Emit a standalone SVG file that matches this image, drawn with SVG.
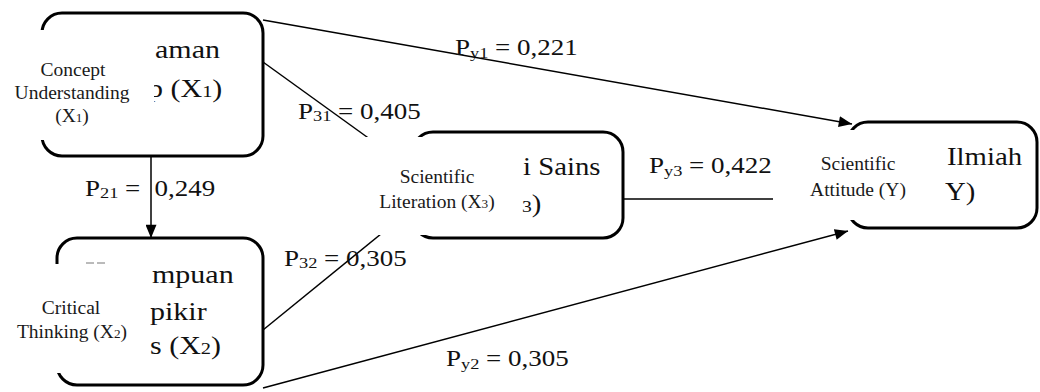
<svg xmlns="http://www.w3.org/2000/svg" width="1040" height="392" viewBox="0 0 1040 392" font-family="'Liberation Serif', 'Times New Roman', serif">
<style>
.box{fill:none;stroke:#000;stroke-width:3}
.mask{fill:#fff}
.ln{fill:none;stroke:#000;stroke-width:1.5}
text{font-family:'Liberation Serif','Times New Roman',serif}
.coef{font-size:22.5px;fill:#111}
.ind{font-size:25px;fill:#111}
.en{font-size:19.5px;fill:#1a1a1a;text-anchor:middle}
.sb{font-size:68%}
</style>
<defs>
<marker id="ah" viewBox="0 0 12 10" refX="12" refY="5" markerWidth="14" markerHeight="11" markerUnits="userSpaceOnUse" orient="auto">
<path d="M0,0 L12,5 L0,10 z" fill="#000"/>
</marker>
</defs>
<rect width="1040" height="392" fill="#fff"/>
<g id="connectors">
<path class="ln" d="M151,157 V238" marker-end="url(#ah)"/>
<path class="ln" d="M263,20 L852,124" marker-end="url(#ah)"/>
<path class="ln" d="M263,62 L385,150"/>
<path class="ln" d="M263,330 L392,225"/>
<path class="ln" d="M623,199 H800"/>
<path class="ln" d="M263,388 L848,231" marker-end="url(#ah)"/>
<text class="coef" transform="translate(455,55) scale(1.2,1)">P<tspan class="sb" dy="3">y1</tspan><tspan dy="-3"> = 0,221</tspan></text>
<text class="coef" transform="translate(298,119) scale(1.2,1)">P<tspan class="sb" dy="2">31</tspan><tspan dy="-2"> = 0,405</tspan></text>
<text class="coef" transform="translate(85,196) scale(1.2,1)">P<tspan class="sb" dy="2">21</tspan><tspan dy="-2"> =</tspan><tspan x="58">0,249</tspan></text>
<text class="coef" transform="translate(284,266) scale(1.2,1)">P<tspan class="sb" dy="2">32</tspan><tspan dy="-2"> = 0,305</tspan></text>
<text class="coef" transform="translate(649,173) scale(1.2,1)">P<tspan class="sb" dy="3">y3</tspan><tspan dy="-3"> = 0,422</tspan></text>
<text class="coef" transform="translate(446,366) scale(1.2,1)">P<tspan class="sb" dy="3">y2</tspan><tspan dy="-3"> = 0,305</tspan></text>
</g>
<g id="node-x1">
<rect class="box" x="42" y="13" width="221" height="143" rx="20"/>
<text class="ind" transform="translate(155,58) scale(1.2,1)">aman</text>
<text class="ind" transform="translate(148,97) scale(1.2,1)">p (X<tspan class="sb">1</tspan>)</text>
<rect class="mask" x="0" y="30" width="154" height="110"/>
<text class="en" x="73" y="76">Concept</text>
<text class="en" x="72" y="99">Understanding</text>
<text class="en" x="72" y="122">(X<tspan class="sb">1</tspan>)</text>
</g>
<g id="node-x2">
<rect class="box" x="57" y="238" width="206" height="147" rx="20"/>
<text class="ind" transform="translate(152,283) scale(1.2,1)">mpuan</text>
<text class="ind" transform="translate(150,320) scale(1.2,1)">pikir</text>
<text class="ind" transform="translate(150,354) scale(1.2,1)">s (X<tspan class="sb">2</tspan>)</text>
<rect class="mask" x="0" y="264" width="150" height="109"/>
<path d="M86,263 H94 M97,263 H105" stroke="#777" stroke-width="1"/>
<text class="en" x="71" y="314">Critical</text>
<text class="en" x="72" y="338">Thinking (X<tspan class="sb">2</tspan>)</text>
</g>
<g id="node-x3">
<rect class="box" x="413" y="132" width="210" height="106" rx="20"/>
<text class="ind" transform="translate(523,175) scale(1.15,1)">i Sains</text>
<text class="ind" transform="translate(522,212) scale(1.15,1)"><tspan class="sb">3</tspan>)</text>
<rect class="mask" x="358" y="137" width="163" height="98"/>
<text class="en" x="437" y="183">Scientific</text>
<text class="en" x="437" y="208">Literation (X<tspan class="sb">3</tspan>)</text>
</g>
<g id="node-y">
<rect class="box" x="848" y="122" width="189" height="106" rx="20"/>
<text class="ind" transform="translate(947,165) scale(1.15,1)">Ilmiah</text>
<text class="ind" transform="translate(945,200) scale(1.15,1)">Y)</text>
<rect class="mask" x="773" y="130" width="171" height="90"/>
<text class="en" x="858" y="170">Scientific</text>
<text class="en" x="858" y="196">Attitude (Y)</text>
</g>
</svg>
